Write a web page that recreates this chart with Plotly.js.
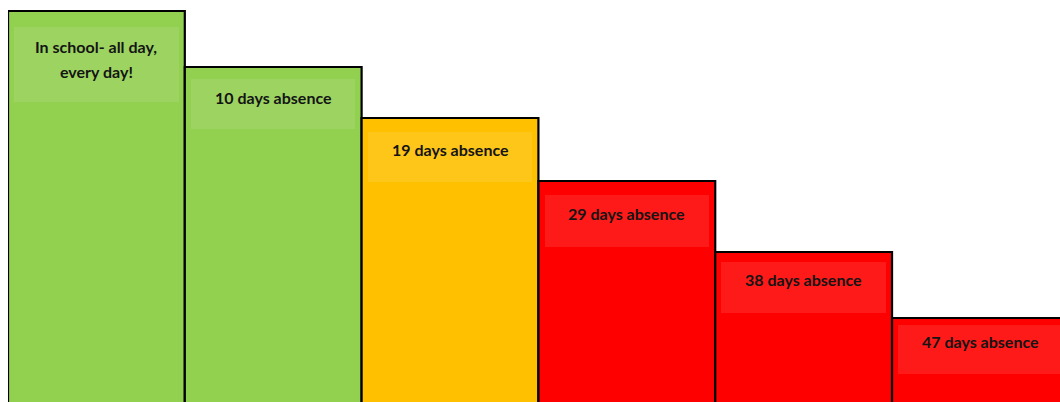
<!DOCTYPE html>
<html>
<head>
<meta charset="utf-8">
<script src="https://cdn.plot.ly/plotly-3.0.1.min.js"></script>
<style>html,body{margin:0;padding:0;background:#fff;}#chart{width:1060px;height:402px;}</style>
</head>
<body>
<div id="chart"></div>
<script>
// Data (bar heights in chart units, baseline at 0)
var categories = ["Full attendance", "10 days", "19 days", "29 days", "38 days", "47 days"];
var barHeights = [391, 335, 284, 221, 150, 84];
var labels = [["In school- all day,", "every day!"], ["10 days absence"], ["19 days absence"], ["29 days absence"], ["38 days absence"], ["47 days absence"]];
var barColors = ["#92d050", "#92d050", "#ffc000", "#ff0000", "#ff0000", "#ff0000"];

// Styling (pixel offsets of the highlight strip and label below each bar top)
var stripInset = [16, 12, 14, 14, 10, 7];
var stripHeight = [75, 50, 50, 52, 51, 49];
var labelOffset = [35, 30, 31, 32, 27, 23];
var LINE_H = 25;

var xIdx = categories.map(function (c, i) { return i; });

var mainBars = {
  type: "bar",
  x: xIdx,
  y: barHeights.map(function (v) { return v + 20; }),
  base: barHeights.map(function () { return -20; }),
  width: 1,
  marker: { color: barColors, line: { color: "#000", width: 2.2 } },
  hoverinfo: "skip",
  showlegend: false
};

var strips = {
  type: "bar",
  x: xIdx,
  y: stripHeight,
  base: barHeights.map(function (v, i) { return v - stripInset[i] - stripHeight[i]; }),
  width: 0.93,
  marker: { color: "rgba(255,255,255,0.1)", line: { width: 0 } },
  hoverinfo: "skip",
  showlegend: false
};

var annotations = [];
labels.forEach(function (lines, i) {
  lines.forEach(function (t, k) {
    annotations.push({
      x: i, y: barHeights[i], xref: "x", yref: "y",
      yshift: -(labelOffset[i] + LINE_H * k),
      text: t, showarrow: false,
      font: { family: "Lato, 'Open Sans', sans-serif", size: 16, color: "#141414", weight: "bold" },
      xanchor: "center", yanchor: "middle"
    });
  });
});

var layout = {
  width: 1060, height: 402,
  margin: { l: 8, r: 0, t: 0, b: 0 },
  paper_bgcolor: "#fff", plot_bgcolor: "#fff",
  barmode: "overlay", bargap: 0,
  xaxis: { range: [-0.5, 5.45], visible: false, fixedrange: true },
  yaxis: { range: [0, 402], visible: false, fixedrange: true },
  annotations: annotations,
  showlegend: false
};

Plotly.newPlot("chart", [mainBars, strips], layout, { staticPlot: true, displayModeBar: false });
</script>
</body>
</html>
